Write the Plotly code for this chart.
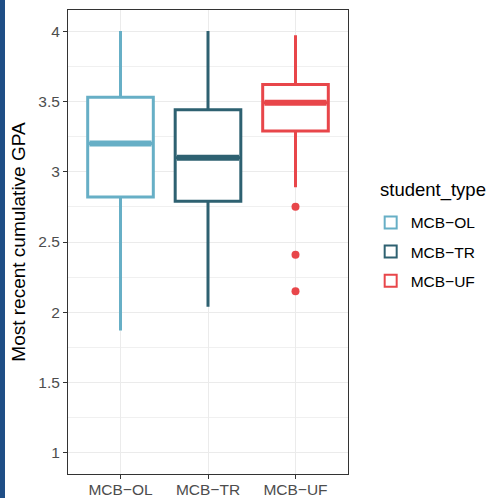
import plotly.graph_objects as go

categories = ["MCB−OL", "MCB−TR", "MCB−UF"]
lower_whisker = [1.87, 2.04, 2.89]
q1_vals = [2.82, 2.79, 3.29]
median_vals = [3.20, 3.10, 3.49]
q3_vals = [3.53, 3.44, 3.62]
upper_whisker = [4.00, 4.00, 3.97]
outlier_group = [2, 2, 2]
outlier_vals = [2.75, 2.41, 2.15]
colors = ["#67AFC6", "#2E6171", "#E8464A"]
legend_title = "student_type"

FONT = "Liberation Sans, Arial"
BOX_W = 0.75
fig = go.Figure()
for i, cat in enumerate(categories):
    fig.add_trace(go.Box(
        x=[i], q1=[q1_vals[i]], median=[median_vals[i]], q3=[q3_vals[i]],
        lowerfence=[lower_whisker[i]], upperfence=[upper_whisker[i]],
        name=cat, width=BOX_W, whiskerwidth=0, line=dict(color=colors[i], width=3),
        fillcolor="white", boxpoints=False, hoverinfo="skip",
        legendgroup=cat,
    ))
for i, cat in enumerate(categories):
    fig.add_trace(go.Scatter(
        x=[i - BOX_W / 2 + 0.02, i + BOX_W / 2 - 0.02], y=[median_vals[i]] * 2,
        mode="lines", line=dict(color=colors[i], width=6),
        showlegend=False, hoverinfo="skip",
    ))
fig.add_trace(go.Scatter(
    x=outlier_group, y=outlier_vals, mode="markers",
    marker=dict(color=colors[2], size=8), showlegend=False, hoverinfo="skip",
))

axis_common = dict(
    showline=True, linecolor="#333333", linewidth=1, mirror=True,
    ticks="outside", ticklen=4, tickcolor="#333333", tickwidth=1,
    gridcolor="#EBEBEB", gridwidth=1, zeroline=False, automargin=False,
    tickfont=dict(family=FONT, size=15.5, color="#4D4D4D"),
)
fig.update_xaxes(range=[-0.6, 2.6], tickvals=[0, 1, 2], ticktext=categories,
                 ticklabelstandoff=-3, **axis_common)
fig.update_yaxes(
    range=[0.85, 4.15], tickvals=[1, 1.5, 2, 2.5, 3, 3.5, 4],
    ticktext=["1", "1.5", "2", "2.5", "3", "3.5", "4"],
    minor=dict(tickvals=[1.25, 1.75, 2.25, 2.75, 3.25, 3.75], showgrid=True,
               gridcolor="#F0F0F0", gridwidth=1, ticks=""),
    title=dict(text="Most recent cumulative GPA",
               font=dict(family=FONT, size=19, color="black"), standoff=7),
    **axis_common,
)
fig.add_shape(type="rect", xref="paper", yref="paper",
              x0=-0.3, x1=(5 - 68) / 280, y0=-0.2, y1=1.1,
              fillcolor="#1F4E86", line=dict(width=0), layer="above")
fig.add_annotation(text=legend_title, xref="paper", yref="paper",
                   x=(378 - 68) / 280, y=(474 - 190) / 464,
                   xanchor="left", yanchor="middle", showarrow=False,
                   font=dict(family=FONT, size=18.5, color="black"))
fig.update_layout(
    width=493, height=498,
    margin=dict(l=68, r=145, t=10, b=24, autoexpand=False),
    paper_bgcolor="white", plot_bgcolor="white",
    boxmode="overlay",
    showlegend=True,
    legend=dict(
        x=1.081, y=0.578, xanchor="left", yanchor="top",
        font=dict(family=FONT, size=15.5, color="black"),
        tracegroupgap=6, itemsizing="constant",
    ),
)
fig.write_html("out.html")
